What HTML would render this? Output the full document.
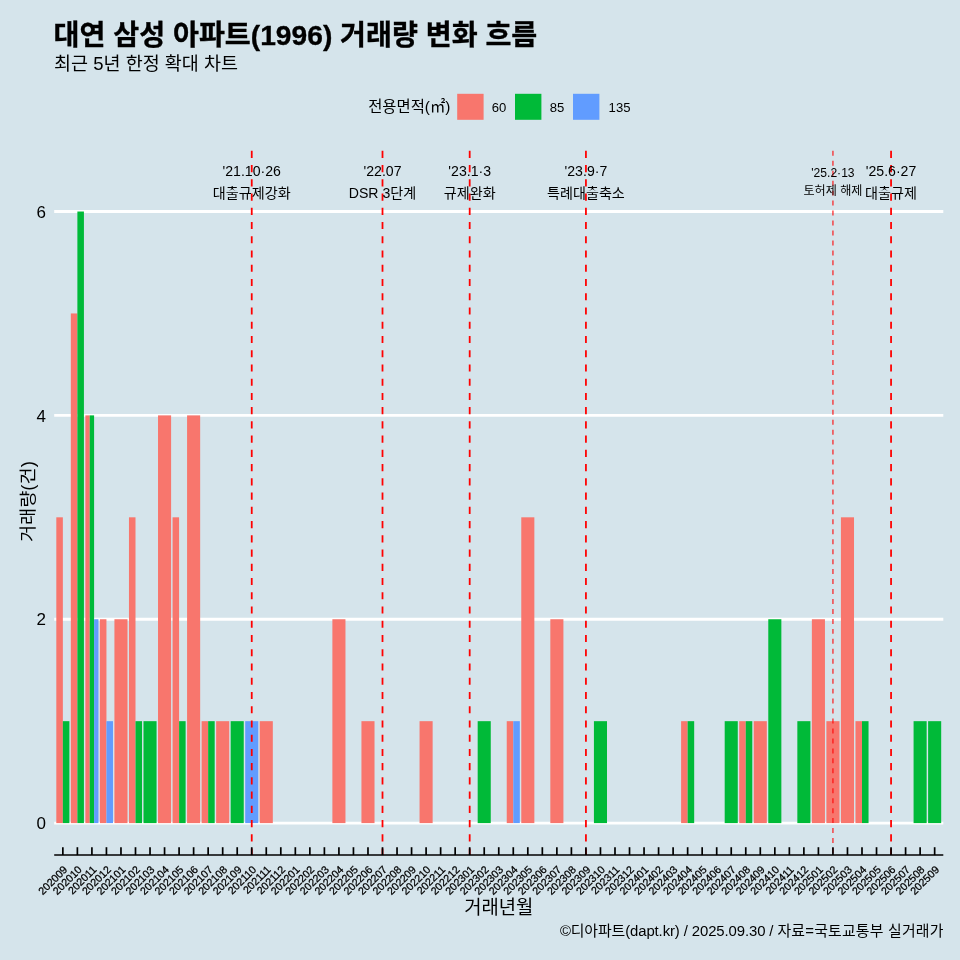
<!DOCTYPE html>
<html lang="ko"><head><meta charset="utf-8"><title>대연 삼성 아파트(1996) 거래량 변화 흐름</title>
<style>html,body{margin:0;padding:0;background:#d5e4eb;}svg{display:block}</style></head>
<body>
<svg width="960" height="960" viewBox="0 0 960 960" font-family='"Liberation Sans", "Noto Sans CJK KR", sans-serif'>
<rect x="0" y="0" width="960" height="960" fill="#d5e4eb"/>
<line x1="54.2" x2="943.3" y1="823.10" y2="823.10" stroke="#ffffff" stroke-width="2.9"/>
<line x1="54.2" x2="943.3" y1="619.24" y2="619.24" stroke="#ffffff" stroke-width="2.9"/>
<line x1="54.2" x2="943.3" y1="415.38" y2="415.38" stroke="#ffffff" stroke-width="2.9"/>
<line x1="54.2" x2="943.3" y1="211.52" y2="211.52" stroke="#ffffff" stroke-width="2.9"/>
<rect x="56.31" y="517.31" width="6.54" height="305.79" fill="#F8766D"/>
<rect x="62.85" y="721.17" width="6.54" height="101.93" fill="#00BA38"/>
<rect x="70.84" y="313.45" width="6.54" height="509.65" fill="#F8766D"/>
<rect x="77.38" y="211.52" width="6.54" height="611.58" fill="#00BA38"/>
<rect x="85.37" y="415.38" width="4.36" height="407.72" fill="#F8766D"/>
<rect x="89.73" y="415.38" width="4.36" height="407.72" fill="#00BA38"/>
<rect x="94.09" y="619.24" width="4.36" height="203.86" fill="#619CFF"/>
<rect x="99.90" y="619.24" width="6.54" height="203.86" fill="#F8766D"/>
<rect x="106.44" y="721.17" width="6.54" height="101.93" fill="#619CFF"/>
<rect x="114.43" y="619.24" width="13.08" height="203.86" fill="#F8766D"/>
<rect x="128.96" y="517.31" width="6.54" height="305.79" fill="#F8766D"/>
<rect x="135.50" y="721.17" width="6.54" height="101.93" fill="#00BA38"/>
<rect x="143.49" y="721.17" width="13.08" height="101.93" fill="#00BA38"/>
<rect x="158.02" y="415.38" width="13.08" height="407.72" fill="#F8766D"/>
<rect x="172.55" y="517.31" width="6.54" height="305.79" fill="#F8766D"/>
<rect x="179.09" y="721.17" width="6.54" height="101.93" fill="#00BA38"/>
<rect x="187.08" y="415.38" width="13.08" height="407.72" fill="#F8766D"/>
<rect x="201.61" y="721.17" width="6.54" height="101.93" fill="#F8766D"/>
<rect x="208.15" y="721.17" width="6.54" height="101.93" fill="#00BA38"/>
<rect x="216.14" y="721.17" width="13.08" height="101.93" fill="#F8766D"/>
<rect x="230.67" y="721.17" width="13.08" height="101.93" fill="#00BA38"/>
<rect x="245.20" y="721.17" width="13.08" height="101.93" fill="#619CFF"/>
<rect x="259.73" y="721.17" width="13.08" height="101.93" fill="#F8766D"/>
<rect x="332.38" y="619.24" width="13.08" height="203.86" fill="#F8766D"/>
<rect x="361.44" y="721.17" width="13.08" height="101.93" fill="#F8766D"/>
<rect x="419.56" y="721.17" width="13.08" height="101.93" fill="#F8766D"/>
<rect x="477.68" y="721.17" width="13.08" height="101.93" fill="#00BA38"/>
<rect x="506.74" y="721.17" width="6.54" height="101.93" fill="#F8766D"/>
<rect x="513.28" y="721.17" width="6.54" height="101.93" fill="#619CFF"/>
<rect x="521.27" y="517.31" width="13.08" height="305.79" fill="#F8766D"/>
<rect x="550.33" y="619.24" width="13.08" height="203.86" fill="#F8766D"/>
<rect x="593.92" y="721.17" width="13.08" height="101.93" fill="#00BA38"/>
<rect x="681.10" y="721.17" width="6.54" height="101.93" fill="#F8766D"/>
<rect x="687.64" y="721.17" width="6.54" height="101.93" fill="#00BA38"/>
<rect x="724.69" y="721.17" width="13.08" height="101.93" fill="#00BA38"/>
<rect x="739.22" y="721.17" width="6.54" height="101.93" fill="#F8766D"/>
<rect x="745.76" y="721.17" width="6.54" height="101.93" fill="#00BA38"/>
<rect x="753.75" y="721.17" width="13.08" height="101.93" fill="#F8766D"/>
<rect x="768.28" y="619.24" width="13.08" height="203.86" fill="#00BA38"/>
<rect x="797.34" y="721.17" width="13.08" height="101.93" fill="#00BA38"/>
<rect x="811.87" y="619.24" width="13.08" height="203.86" fill="#F8766D"/>
<rect x="826.40" y="721.17" width="13.08" height="101.93" fill="#F8766D"/>
<rect x="840.93" y="517.31" width="13.08" height="305.79" fill="#F8766D"/>
<rect x="855.46" y="721.17" width="6.54" height="101.93" fill="#F8766D"/>
<rect x="862.00" y="721.17" width="6.54" height="101.93" fill="#00BA38"/>
<rect x="913.58" y="721.17" width="13.08" height="101.93" fill="#00BA38"/>
<rect x="928.11" y="721.17" width="13.08" height="101.93" fill="#00BA38"/>
<line x1="251.74" x2="251.74" y1="150.8" y2="855.1" stroke="#ff0000" stroke-opacity="1.0" stroke-width="1.78" stroke-dasharray="7.12 7.12"/>
<line x1="382.51" x2="382.51" y1="150.8" y2="855.1" stroke="#ff0000" stroke-opacity="1.0" stroke-width="1.78" stroke-dasharray="7.12 7.12"/>
<line x1="469.69" x2="469.69" y1="150.8" y2="855.1" stroke="#ff0000" stroke-opacity="1.0" stroke-width="1.78" stroke-dasharray="7.12 7.12"/>
<line x1="585.93" x2="585.93" y1="150.8" y2="855.1" stroke="#ff0000" stroke-opacity="1.0" stroke-width="1.78" stroke-dasharray="7.12 7.12"/>
<line x1="832.94" x2="832.94" y1="150.8" y2="855.1" stroke="#ff0000" stroke-opacity="0.85" stroke-width="1.244" stroke-dasharray="4.98 4.98"/>
<line x1="891.06" x2="891.06" y1="150.8" y2="855.1" stroke="#ff0000" stroke-opacity="1.0" stroke-width="1.78" stroke-dasharray="7.12 7.12"/>
<text x="251.74" y="175.9" font-size="14.1" text-anchor="middle" fill="#000">'21.10·26</text>
<text x="251.74" y="197.8" font-size="14.1" text-anchor="middle" fill="#000">대출규제강화</text>
<text x="382.51" y="175.9" font-size="14.1" text-anchor="middle" fill="#000">'22.07</text>
<text x="382.51" y="197.8" font-size="14.1" text-anchor="middle" fill="#000">DSR 3단계</text>
<text x="469.69" y="175.9" font-size="14.1" text-anchor="middle" fill="#000">'23.1·3</text>
<text x="469.69" y="197.8" font-size="14.1" text-anchor="middle" fill="#000">규제완화</text>
<text x="585.93" y="175.9" font-size="14.1" text-anchor="middle" fill="#000">'23.9·7</text>
<text x="585.93" y="197.8" font-size="14.1" text-anchor="middle" fill="#000">특례대출축소</text>
<text x="832.94" y="176.7" font-size="12.1" text-anchor="middle" fill="#000">'25.2·13</text>
<text x="832.94" y="195.4" font-size="12.1" text-anchor="middle" fill="#000">토허제 해제</text>
<text x="891.06" y="175.9" font-size="14.1" text-anchor="middle" fill="#000">'25.6·27</text>
<text x="891.06" y="197.8" font-size="14.1" text-anchor="middle" fill="#000">대출규제</text>
<line x1="54.2" x2="943.3" y1="855.1" y2="855.1" stroke="#000" stroke-width="1.5"/>
<line x1="62.85" x2="62.85" y1="855.1" y2="847.2" stroke="#000" stroke-width="1.7"/>
<line x1="77.38" x2="77.38" y1="855.1" y2="847.2" stroke="#000" stroke-width="1.7"/>
<line x1="91.91" x2="91.91" y1="855.1" y2="847.2" stroke="#000" stroke-width="1.7"/>
<line x1="106.44" x2="106.44" y1="855.1" y2="847.2" stroke="#000" stroke-width="1.7"/>
<line x1="120.97" x2="120.97" y1="855.1" y2="847.2" stroke="#000" stroke-width="1.7"/>
<line x1="135.50" x2="135.50" y1="855.1" y2="847.2" stroke="#000" stroke-width="1.7"/>
<line x1="150.03" x2="150.03" y1="855.1" y2="847.2" stroke="#000" stroke-width="1.7"/>
<line x1="164.56" x2="164.56" y1="855.1" y2="847.2" stroke="#000" stroke-width="1.7"/>
<line x1="179.09" x2="179.09" y1="855.1" y2="847.2" stroke="#000" stroke-width="1.7"/>
<line x1="193.62" x2="193.62" y1="855.1" y2="847.2" stroke="#000" stroke-width="1.7"/>
<line x1="208.15" x2="208.15" y1="855.1" y2="847.2" stroke="#000" stroke-width="1.7"/>
<line x1="222.68" x2="222.68" y1="855.1" y2="847.2" stroke="#000" stroke-width="1.7"/>
<line x1="237.21" x2="237.21" y1="855.1" y2="847.2" stroke="#000" stroke-width="1.7"/>
<line x1="251.74" x2="251.74" y1="855.1" y2="847.2" stroke="#000" stroke-width="1.7"/>
<line x1="266.27" x2="266.27" y1="855.1" y2="847.2" stroke="#000" stroke-width="1.7"/>
<line x1="280.80" x2="280.80" y1="855.1" y2="847.2" stroke="#000" stroke-width="1.7"/>
<line x1="295.33" x2="295.33" y1="855.1" y2="847.2" stroke="#000" stroke-width="1.7"/>
<line x1="309.86" x2="309.86" y1="855.1" y2="847.2" stroke="#000" stroke-width="1.7"/>
<line x1="324.39" x2="324.39" y1="855.1" y2="847.2" stroke="#000" stroke-width="1.7"/>
<line x1="338.92" x2="338.92" y1="855.1" y2="847.2" stroke="#000" stroke-width="1.7"/>
<line x1="353.45" x2="353.45" y1="855.1" y2="847.2" stroke="#000" stroke-width="1.7"/>
<line x1="367.98" x2="367.98" y1="855.1" y2="847.2" stroke="#000" stroke-width="1.7"/>
<line x1="382.51" x2="382.51" y1="855.1" y2="847.2" stroke="#000" stroke-width="1.7"/>
<line x1="397.04" x2="397.04" y1="855.1" y2="847.2" stroke="#000" stroke-width="1.7"/>
<line x1="411.57" x2="411.57" y1="855.1" y2="847.2" stroke="#000" stroke-width="1.7"/>
<line x1="426.10" x2="426.10" y1="855.1" y2="847.2" stroke="#000" stroke-width="1.7"/>
<line x1="440.63" x2="440.63" y1="855.1" y2="847.2" stroke="#000" stroke-width="1.7"/>
<line x1="455.16" x2="455.16" y1="855.1" y2="847.2" stroke="#000" stroke-width="1.7"/>
<line x1="469.69" x2="469.69" y1="855.1" y2="847.2" stroke="#000" stroke-width="1.7"/>
<line x1="484.22" x2="484.22" y1="855.1" y2="847.2" stroke="#000" stroke-width="1.7"/>
<line x1="498.75" x2="498.75" y1="855.1" y2="847.2" stroke="#000" stroke-width="1.7"/>
<line x1="513.28" x2="513.28" y1="855.1" y2="847.2" stroke="#000" stroke-width="1.7"/>
<line x1="527.81" x2="527.81" y1="855.1" y2="847.2" stroke="#000" stroke-width="1.7"/>
<line x1="542.34" x2="542.34" y1="855.1" y2="847.2" stroke="#000" stroke-width="1.7"/>
<line x1="556.87" x2="556.87" y1="855.1" y2="847.2" stroke="#000" stroke-width="1.7"/>
<line x1="571.40" x2="571.40" y1="855.1" y2="847.2" stroke="#000" stroke-width="1.7"/>
<line x1="585.93" x2="585.93" y1="855.1" y2="847.2" stroke="#000" stroke-width="1.7"/>
<line x1="600.46" x2="600.46" y1="855.1" y2="847.2" stroke="#000" stroke-width="1.7"/>
<line x1="614.99" x2="614.99" y1="855.1" y2="847.2" stroke="#000" stroke-width="1.7"/>
<line x1="629.52" x2="629.52" y1="855.1" y2="847.2" stroke="#000" stroke-width="1.7"/>
<line x1="644.05" x2="644.05" y1="855.1" y2="847.2" stroke="#000" stroke-width="1.7"/>
<line x1="658.58" x2="658.58" y1="855.1" y2="847.2" stroke="#000" stroke-width="1.7"/>
<line x1="673.11" x2="673.11" y1="855.1" y2="847.2" stroke="#000" stroke-width="1.7"/>
<line x1="687.64" x2="687.64" y1="855.1" y2="847.2" stroke="#000" stroke-width="1.7"/>
<line x1="702.17" x2="702.17" y1="855.1" y2="847.2" stroke="#000" stroke-width="1.7"/>
<line x1="716.70" x2="716.70" y1="855.1" y2="847.2" stroke="#000" stroke-width="1.7"/>
<line x1="731.23" x2="731.23" y1="855.1" y2="847.2" stroke="#000" stroke-width="1.7"/>
<line x1="745.76" x2="745.76" y1="855.1" y2="847.2" stroke="#000" stroke-width="1.7"/>
<line x1="760.29" x2="760.29" y1="855.1" y2="847.2" stroke="#000" stroke-width="1.7"/>
<line x1="774.82" x2="774.82" y1="855.1" y2="847.2" stroke="#000" stroke-width="1.7"/>
<line x1="789.35" x2="789.35" y1="855.1" y2="847.2" stroke="#000" stroke-width="1.7"/>
<line x1="803.88" x2="803.88" y1="855.1" y2="847.2" stroke="#000" stroke-width="1.7"/>
<line x1="818.41" x2="818.41" y1="855.1" y2="847.2" stroke="#000" stroke-width="1.7"/>
<line x1="832.94" x2="832.94" y1="855.1" y2="847.2" stroke="#000" stroke-width="1.7"/>
<line x1="847.47" x2="847.47" y1="855.1" y2="847.2" stroke="#000" stroke-width="1.7"/>
<line x1="862.00" x2="862.00" y1="855.1" y2="847.2" stroke="#000" stroke-width="1.7"/>
<line x1="876.53" x2="876.53" y1="855.1" y2="847.2" stroke="#000" stroke-width="1.7"/>
<line x1="891.06" x2="891.06" y1="855.1" y2="847.2" stroke="#000" stroke-width="1.7"/>
<line x1="905.59" x2="905.59" y1="855.1" y2="847.2" stroke="#000" stroke-width="1.7"/>
<line x1="920.12" x2="920.12" y1="855.1" y2="847.2" stroke="#000" stroke-width="1.7"/>
<line x1="934.65" x2="934.65" y1="855.1" y2="847.2" stroke="#000" stroke-width="1.7"/>
<text transform="translate(62.75,865.0) rotate(-45)" font-size="10.7" stroke="#000" stroke-width="0.25" text-anchor="end" dominant-baseline="auto" y="7.5" fill="#000">202009</text>
<text transform="translate(77.28,865.0) rotate(-45)" font-size="10.7" stroke="#000" stroke-width="0.25" text-anchor="end" dominant-baseline="auto" y="7.5" fill="#000">202010</text>
<text transform="translate(91.81,865.0) rotate(-45)" font-size="10.7" stroke="#000" stroke-width="0.25" text-anchor="end" dominant-baseline="auto" y="7.5" fill="#000">202011</text>
<text transform="translate(106.34,865.0) rotate(-45)" font-size="10.7" stroke="#000" stroke-width="0.25" text-anchor="end" dominant-baseline="auto" y="7.5" fill="#000">202012</text>
<text transform="translate(120.87,865.0) rotate(-45)" font-size="10.7" stroke="#000" stroke-width="0.25" text-anchor="end" dominant-baseline="auto" y="7.5" fill="#000">202101</text>
<text transform="translate(135.40,865.0) rotate(-45)" font-size="10.7" stroke="#000" stroke-width="0.25" text-anchor="end" dominant-baseline="auto" y="7.5" fill="#000">202102</text>
<text transform="translate(149.93,865.0) rotate(-45)" font-size="10.7" stroke="#000" stroke-width="0.25" text-anchor="end" dominant-baseline="auto" y="7.5" fill="#000">202103</text>
<text transform="translate(164.46,865.0) rotate(-45)" font-size="10.7" stroke="#000" stroke-width="0.25" text-anchor="end" dominant-baseline="auto" y="7.5" fill="#000">202104</text>
<text transform="translate(178.99,865.0) rotate(-45)" font-size="10.7" stroke="#000" stroke-width="0.25" text-anchor="end" dominant-baseline="auto" y="7.5" fill="#000">202105</text>
<text transform="translate(193.52,865.0) rotate(-45)" font-size="10.7" stroke="#000" stroke-width="0.25" text-anchor="end" dominant-baseline="auto" y="7.5" fill="#000">202106</text>
<text transform="translate(208.05,865.0) rotate(-45)" font-size="10.7" stroke="#000" stroke-width="0.25" text-anchor="end" dominant-baseline="auto" y="7.5" fill="#000">202107</text>
<text transform="translate(222.58,865.0) rotate(-45)" font-size="10.7" stroke="#000" stroke-width="0.25" text-anchor="end" dominant-baseline="auto" y="7.5" fill="#000">202108</text>
<text transform="translate(237.11,865.0) rotate(-45)" font-size="10.7" stroke="#000" stroke-width="0.25" text-anchor="end" dominant-baseline="auto" y="7.5" fill="#000">202109</text>
<text transform="translate(251.64,865.0) rotate(-45)" font-size="10.7" stroke="#000" stroke-width="0.25" text-anchor="end" dominant-baseline="auto" y="7.5" fill="#000">202110</text>
<text transform="translate(266.17,865.0) rotate(-45)" font-size="10.7" stroke="#000" stroke-width="0.25" text-anchor="end" dominant-baseline="auto" y="7.5" fill="#000">202111</text>
<text transform="translate(280.70,865.0) rotate(-45)" font-size="10.7" stroke="#000" stroke-width="0.25" text-anchor="end" dominant-baseline="auto" y="7.5" fill="#000">202112</text>
<text transform="translate(295.23,865.0) rotate(-45)" font-size="10.7" stroke="#000" stroke-width="0.25" text-anchor="end" dominant-baseline="auto" y="7.5" fill="#000">202201</text>
<text transform="translate(309.76,865.0) rotate(-45)" font-size="10.7" stroke="#000" stroke-width="0.25" text-anchor="end" dominant-baseline="auto" y="7.5" fill="#000">202202</text>
<text transform="translate(324.29,865.0) rotate(-45)" font-size="10.7" stroke="#000" stroke-width="0.25" text-anchor="end" dominant-baseline="auto" y="7.5" fill="#000">202203</text>
<text transform="translate(338.82,865.0) rotate(-45)" font-size="10.7" stroke="#000" stroke-width="0.25" text-anchor="end" dominant-baseline="auto" y="7.5" fill="#000">202204</text>
<text transform="translate(353.35,865.0) rotate(-45)" font-size="10.7" stroke="#000" stroke-width="0.25" text-anchor="end" dominant-baseline="auto" y="7.5" fill="#000">202205</text>
<text transform="translate(367.88,865.0) rotate(-45)" font-size="10.7" stroke="#000" stroke-width="0.25" text-anchor="end" dominant-baseline="auto" y="7.5" fill="#000">202206</text>
<text transform="translate(382.41,865.0) rotate(-45)" font-size="10.7" stroke="#000" stroke-width="0.25" text-anchor="end" dominant-baseline="auto" y="7.5" fill="#000">202207</text>
<text transform="translate(396.94,865.0) rotate(-45)" font-size="10.7" stroke="#000" stroke-width="0.25" text-anchor="end" dominant-baseline="auto" y="7.5" fill="#000">202208</text>
<text transform="translate(411.47,865.0) rotate(-45)" font-size="10.7" stroke="#000" stroke-width="0.25" text-anchor="end" dominant-baseline="auto" y="7.5" fill="#000">202209</text>
<text transform="translate(426.00,865.0) rotate(-45)" font-size="10.7" stroke="#000" stroke-width="0.25" text-anchor="end" dominant-baseline="auto" y="7.5" fill="#000">202210</text>
<text transform="translate(440.53,865.0) rotate(-45)" font-size="10.7" stroke="#000" stroke-width="0.25" text-anchor="end" dominant-baseline="auto" y="7.5" fill="#000">202211</text>
<text transform="translate(455.06,865.0) rotate(-45)" font-size="10.7" stroke="#000" stroke-width="0.25" text-anchor="end" dominant-baseline="auto" y="7.5" fill="#000">202212</text>
<text transform="translate(469.59,865.0) rotate(-45)" font-size="10.7" stroke="#000" stroke-width="0.25" text-anchor="end" dominant-baseline="auto" y="7.5" fill="#000">202301</text>
<text transform="translate(484.12,865.0) rotate(-45)" font-size="10.7" stroke="#000" stroke-width="0.25" text-anchor="end" dominant-baseline="auto" y="7.5" fill="#000">202302</text>
<text transform="translate(498.65,865.0) rotate(-45)" font-size="10.7" stroke="#000" stroke-width="0.25" text-anchor="end" dominant-baseline="auto" y="7.5" fill="#000">202303</text>
<text transform="translate(513.18,865.0) rotate(-45)" font-size="10.7" stroke="#000" stroke-width="0.25" text-anchor="end" dominant-baseline="auto" y="7.5" fill="#000">202304</text>
<text transform="translate(527.71,865.0) rotate(-45)" font-size="10.7" stroke="#000" stroke-width="0.25" text-anchor="end" dominant-baseline="auto" y="7.5" fill="#000">202305</text>
<text transform="translate(542.24,865.0) rotate(-45)" font-size="10.7" stroke="#000" stroke-width="0.25" text-anchor="end" dominant-baseline="auto" y="7.5" fill="#000">202306</text>
<text transform="translate(556.77,865.0) rotate(-45)" font-size="10.7" stroke="#000" stroke-width="0.25" text-anchor="end" dominant-baseline="auto" y="7.5" fill="#000">202307</text>
<text transform="translate(571.30,865.0) rotate(-45)" font-size="10.7" stroke="#000" stroke-width="0.25" text-anchor="end" dominant-baseline="auto" y="7.5" fill="#000">202308</text>
<text transform="translate(585.83,865.0) rotate(-45)" font-size="10.7" stroke="#000" stroke-width="0.25" text-anchor="end" dominant-baseline="auto" y="7.5" fill="#000">202309</text>
<text transform="translate(600.36,865.0) rotate(-45)" font-size="10.7" stroke="#000" stroke-width="0.25" text-anchor="end" dominant-baseline="auto" y="7.5" fill="#000">202310</text>
<text transform="translate(614.89,865.0) rotate(-45)" font-size="10.7" stroke="#000" stroke-width="0.25" text-anchor="end" dominant-baseline="auto" y="7.5" fill="#000">202311</text>
<text transform="translate(629.42,865.0) rotate(-45)" font-size="10.7" stroke="#000" stroke-width="0.25" text-anchor="end" dominant-baseline="auto" y="7.5" fill="#000">202312</text>
<text transform="translate(643.95,865.0) rotate(-45)" font-size="10.7" stroke="#000" stroke-width="0.25" text-anchor="end" dominant-baseline="auto" y="7.5" fill="#000">202401</text>
<text transform="translate(658.48,865.0) rotate(-45)" font-size="10.7" stroke="#000" stroke-width="0.25" text-anchor="end" dominant-baseline="auto" y="7.5" fill="#000">202402</text>
<text transform="translate(673.01,865.0) rotate(-45)" font-size="10.7" stroke="#000" stroke-width="0.25" text-anchor="end" dominant-baseline="auto" y="7.5" fill="#000">202403</text>
<text transform="translate(687.54,865.0) rotate(-45)" font-size="10.7" stroke="#000" stroke-width="0.25" text-anchor="end" dominant-baseline="auto" y="7.5" fill="#000">202404</text>
<text transform="translate(702.07,865.0) rotate(-45)" font-size="10.7" stroke="#000" stroke-width="0.25" text-anchor="end" dominant-baseline="auto" y="7.5" fill="#000">202405</text>
<text transform="translate(716.60,865.0) rotate(-45)" font-size="10.7" stroke="#000" stroke-width="0.25" text-anchor="end" dominant-baseline="auto" y="7.5" fill="#000">202406</text>
<text transform="translate(731.13,865.0) rotate(-45)" font-size="10.7" stroke="#000" stroke-width="0.25" text-anchor="end" dominant-baseline="auto" y="7.5" fill="#000">202407</text>
<text transform="translate(745.66,865.0) rotate(-45)" font-size="10.7" stroke="#000" stroke-width="0.25" text-anchor="end" dominant-baseline="auto" y="7.5" fill="#000">202408</text>
<text transform="translate(760.19,865.0) rotate(-45)" font-size="10.7" stroke="#000" stroke-width="0.25" text-anchor="end" dominant-baseline="auto" y="7.5" fill="#000">202409</text>
<text transform="translate(774.72,865.0) rotate(-45)" font-size="10.7" stroke="#000" stroke-width="0.25" text-anchor="end" dominant-baseline="auto" y="7.5" fill="#000">202410</text>
<text transform="translate(789.25,865.0) rotate(-45)" font-size="10.7" stroke="#000" stroke-width="0.25" text-anchor="end" dominant-baseline="auto" y="7.5" fill="#000">202411</text>
<text transform="translate(803.78,865.0) rotate(-45)" font-size="10.7" stroke="#000" stroke-width="0.25" text-anchor="end" dominant-baseline="auto" y="7.5" fill="#000">202412</text>
<text transform="translate(818.31,865.0) rotate(-45)" font-size="10.7" stroke="#000" stroke-width="0.25" text-anchor="end" dominant-baseline="auto" y="7.5" fill="#000">202501</text>
<text transform="translate(832.84,865.0) rotate(-45)" font-size="10.7" stroke="#000" stroke-width="0.25" text-anchor="end" dominant-baseline="auto" y="7.5" fill="#000">202502</text>
<text transform="translate(847.37,865.0) rotate(-45)" font-size="10.7" stroke="#000" stroke-width="0.25" text-anchor="end" dominant-baseline="auto" y="7.5" fill="#000">202503</text>
<text transform="translate(861.90,865.0) rotate(-45)" font-size="10.7" stroke="#000" stroke-width="0.25" text-anchor="end" dominant-baseline="auto" y="7.5" fill="#000">202504</text>
<text transform="translate(876.43,865.0) rotate(-45)" font-size="10.7" stroke="#000" stroke-width="0.25" text-anchor="end" dominant-baseline="auto" y="7.5" fill="#000">202505</text>
<text transform="translate(890.96,865.0) rotate(-45)" font-size="10.7" stroke="#000" stroke-width="0.25" text-anchor="end" dominant-baseline="auto" y="7.5" fill="#000">202506</text>
<text transform="translate(905.49,865.0) rotate(-45)" font-size="10.7" stroke="#000" stroke-width="0.25" text-anchor="end" dominant-baseline="auto" y="7.5" fill="#000">202507</text>
<text transform="translate(920.02,865.0) rotate(-45)" font-size="10.7" stroke="#000" stroke-width="0.25" text-anchor="end" dominant-baseline="auto" y="7.5" fill="#000">202508</text>
<text transform="translate(934.55,865.0) rotate(-45)" font-size="10.7" stroke="#000" stroke-width="0.25" text-anchor="end" dominant-baseline="auto" y="7.5" fill="#000">202509</text>
<text x="45.9" y="829.30" font-size="17" text-anchor="end" fill="#000">0</text>
<text x="45.9" y="625.44" font-size="17" text-anchor="end" fill="#000">2</text>
<text x="45.9" y="421.58" font-size="17" text-anchor="end" fill="#000">4</text>
<text x="45.9" y="217.72" font-size="17" text-anchor="end" fill="#000">6</text>
<text transform="translate(34,501.6) rotate(-90)" font-size="17.6" textLength="81" lengthAdjust="spacingAndGlyphs" text-anchor="middle" fill="#000">거래량(건)</text>
<text x="498.7" y="914.2" font-size="18.8" text-anchor="middle" fill="#000">거래년월</text>
<text x="943.6" y="936" font-size="14.9" text-anchor="end" fill="#000"><tspan letter-spacing="-0.1">©디아파트(dapt.kr) / 2025.09.30 / </tspan><tspan letter-spacing="0.2">자료=국토교통부 실거래가</tspan></text>
<text x="53.6" y="44.5" font-size="28.2" font-weight="bold" stroke="#000" stroke-width="0.35" fill="#000">대연 삼성 아파트(1996) 거래량 변화 흐름</text>
<text x="54" y="70" font-size="18.5" fill="#000">최근 5년 한정 확대 차트</text>
<text x="368.2" y="112.3" font-size="15.4" fill="#000">전용면적(㎡)</text>
<rect x="457.2" y="93.8" width="26.4" height="26" fill="#F8766D"/>
<text x="491.7" y="111.6" font-size="13.1" fill="#000">60</text>
<rect x="515" y="93.8" width="26.4" height="26" fill="#00BA38"/>
<text x="549.7" y="111.6" font-size="13.1" fill="#000">85</text>
<rect x="573" y="93.8" width="26.4" height="26" fill="#619CFF"/>
<text x="608.6" y="111.6" font-size="13.1" fill="#000">135</text>
</svg>
</body></html>
